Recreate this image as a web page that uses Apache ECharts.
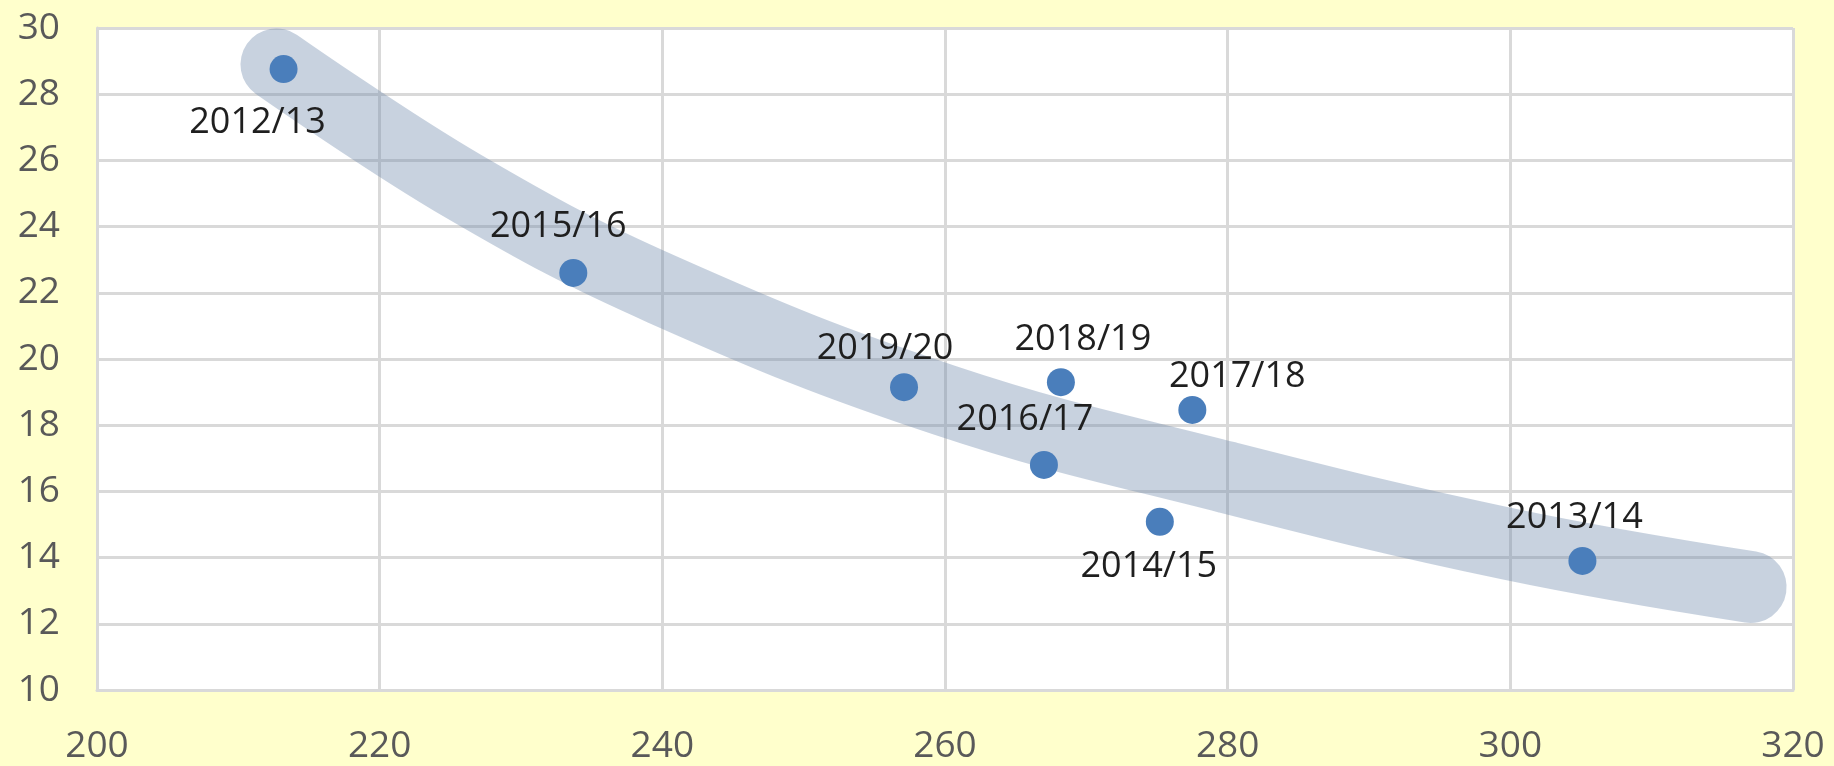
<!DOCTYPE html>
<html>
<head>
<meta charset="utf-8">
<script src="https://cdn.jsdelivr.net/npm/echarts@6/dist/echarts.min.js"></script>
<style>
html,body{margin:0;padding:0;background:#FFFFCC;}
#c{width:1834px;height:766px;}
</style>
</head>
<body>
<div id="c"></div>
<script>
// Season labels and values
const seasons = ['2012/13','2013/14','2014/15','2015/16','2016/17','2017/18','2018/19','2019/20'];
const xValues = [213.2, 305.1, 275.2, 233.7, 267.0, 277.5, 268.2, 257.1];
const yValues = [28.76, 13.9, 15.08, 22.6, 16.8, 18.46, 19.3, 19.15];

// Trend band centre line
const trendX = [212.7, 226, 240, 260, 280, 300, 317];
const trendY = [28.9, 25.2, 22.1, 18.75, 16.42, 14.4, 13.11];

// Axis ticks
const xTicks = {min: 200, max: 320, interval: 20};
const yTicks = {min: 10, max: 30, interval: 2};

// label offsets (layout only)
const labelOffsets = [[-26,54],[-8,-43],[-11,45],[-15,-46],[-19,-45],[45,-33],[22,-42],[-19,-38]];

const chart = echarts.init(document.getElementById('c'), null, {renderer: 'canvas'});

const scatterData = seasons.map((s, i) => ({
  value: [xValues[i], yValues[i]],
  name: s,
  label: {offset: labelOffsets[i]}
}));
const trendData = trendX.map((x, i) => [x, trendY[i]]);

const gridColor = '#D9D9D9';
const font = '"Open Sans", "Liberation Sans", sans-serif';

chart.setOption({
  backgroundColor: '#FFFFCC',
  animation: false,
  graphic: [
    {type: 'rect', shape: {x: 97, y: 28, width: 1696, height: 662}, style: {fill: '#FFFFFF'}, z: -10, silent: true},
    {type: 'text', x: 112, y: -19, style: {text: 'g', font: 'bold 40px "Liberation Sans"', fill: '#000', textVerticalAlign: 'middle'}}
  ],
  grid: {left: 97, right: 41, top: 28, bottom: 76, containLabel: false},
  xAxis: {
    type: 'value', min: xTicks.min, max: xTicks.max, interval: xTicks.interval,
    axisLine: {show: true, lineStyle: {color: gridColor, width: 3}},
    axisTick: {show: false},
    splitLine: {show: true, lineStyle: {color: gridColor, width: 3}},
    axisLabel: {color: '#595959', fontSize: 37, fontFamily: font, margin: 38}
  },
  yAxis: {
    type: 'value', min: yTicks.min, max: yTicks.max, interval: yTicks.interval,
    axisLine: {show: true, lineStyle: {color: gridColor, width: 3}},
    axisTick: {show: false},
    splitLine: {show: true, lineStyle: {color: gridColor, width: 3}},
    axisLabel: {color: '#595959', fontSize: 37, fontFamily: font, margin: 37}
  },
  series: [
    {
      type: 'line',
      data: trendData,
      smooth: 0.4,
      showSymbol: false,
      symbol: 'none',
      z: 2,
      lineStyle: {color: 'rgba(106,133,168,0.37)', width: 72, cap: 'round', join: 'round'},
      silent: true
    },
    {
      type: 'scatter',
      data: scatterData,
      symbolSize: 28,
      z: 3,
      itemStyle: {color: '#4A7EBB', opacity: 1},
      label: {
        show: true,
        position: 'inside',
        formatter: p => p.name,
        color: '#1f1f1f',
        opacity: 1,
        fontSize: 36,
        fontFamily: font
      }
    }
  ]
});
</script>
</body>
</html>
